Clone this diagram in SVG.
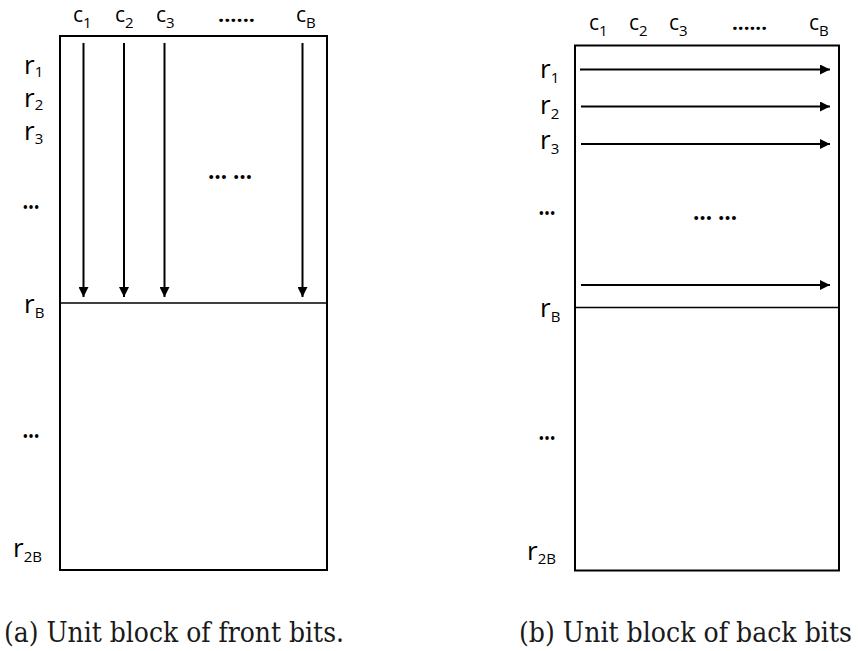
<svg xmlns="http://www.w3.org/2000/svg" width="858" height="651" viewBox="0 0 858 651">
  <style>
    .box { fill: none; stroke: #000; stroke-width: 2; }
    .div { stroke: #000; stroke-width: 1.6; }
    .flow { stroke: #000; stroke-width: 2; marker-end: url(#head); }
    .col { font-size: 21px; fill: #000; }
    .row { font-size: 26px; fill: #000; }
    .sub { font-size: 15px; }
    .dots { font-size: 24px; font-weight: bold; fill: #000; }
    .topdots { font-size: 19px; font-weight: bold; fill: #000; }
    .cap { font-size: 27px; fill: #1a1a1a; }
  </style>
  <defs>
    <marker id="head" markerUnits="userSpaceOnUse" markerWidth="11" markerHeight="10" refX="10" refY="5" orient="auto">
      <path d="M0,0 L10,5 L0,10 Z" fill="#000"/>
    </marker>
  </defs>

  <!-- Block (a): front bits, read column by column -->
  <g id="blockFront" font-family="Open Sans, Noto Sans, sans-serif">
    <rect class="box" x="60" y="36" width="267" height="534"/>
    <line class="div" x1="60" y1="303" x2="327" y2="303"/>
    <text class="col" x="73" y="22">c<tspan class="sub" dy="6">1</tspan></text>
    <text class="col" x="115" y="22">c<tspan class="sub" dy="6">2</tspan></text>
    <text class="col" x="156" y="22">c<tspan class="sub" dy="6">3</tspan></text>
    <text class="topdots" x="218" y="22" textLength="37" lengthAdjust="spacingAndGlyphs">......</text>
    <text class="col" x="296" y="22">c<tspan class="sub" dy="6">B</tspan></text>
    <text class="row" x="24" y="74">r<tspan class="sub" dy="3">1</tspan></text>
    <text class="row" x="24" y="107">r<tspan class="sub" dy="3">2</tspan></text>
    <text class="row" x="24" y="140">r<tspan class="sub" dy="4">3</tspan></text>
    <text class="dots" x="31" y="209" text-anchor="middle" textLength="17" lengthAdjust="spacingAndGlyphs">…</text>
    <text class="dots" x="230" y="179" text-anchor="middle" textLength="44" lengthAdjust="spacingAndGlyphs">… …</text>
    <text class="row" x="24" y="313">r<tspan class="sub" dy="5">B</tspan></text>
    <text class="dots" x="31" y="438" text-anchor="middle" textLength="17" lengthAdjust="spacingAndGlyphs">…</text>
    <text class="row" x="13" y="557">r<tspan class="sub" dy="5">2B</tspan></text>
  </g>
  <text class="cap" font-family="DejaVu Serif" x="4" y="642" textLength="340" lengthAdjust="spacingAndGlyphs">(a) Unit block of front bits.</text>

  <!-- Block (b): back bits, read row by row -->
  <g id="blockBack" font-family="Open Sans, Noto Sans, sans-serif">
    <rect class="box" x="575" y="45.5" width="264" height="525"/>
    <line class="div" x1="575" y1="307.5" x2="839" y2="307.5"/>
    <text class="col" x="589" y="30">c<tspan class="sub" dy="6">1</tspan></text>
    <text class="col" x="629" y="30">c<tspan class="sub" dy="6">2</tspan></text>
    <text class="col" x="669" y="30">c<tspan class="sub" dy="6">3</tspan></text>
    <text class="topdots" x="732" y="30" textLength="35" lengthAdjust="spacingAndGlyphs">......</text>
    <text class="col" x="809" y="30">c<tspan class="sub" dy="6">B</tspan></text>
    <text class="row" x="540" y="78">r<tspan class="sub" dy="5">1</tspan></text>
    <text class="row" x="540" y="114">r<tspan class="sub" dy="5">2</tspan></text>
    <text class="row" x="540" y="149">r<tspan class="sub" dy="5">3</tspan></text>
    <text class="dots" x="547" y="215" text-anchor="middle" textLength="17" lengthAdjust="spacingAndGlyphs">…</text>
    <text class="dots" x="715" y="220" text-anchor="middle" textLength="44" lengthAdjust="spacingAndGlyphs">… …</text>
    <text class="row" x="540" y="317">r<tspan class="sub" dy="5">B</tspan></text>
    <text class="dots" x="547" y="440" text-anchor="middle" textLength="17" lengthAdjust="spacingAndGlyphs">…</text>
    <text class="row" x="527" y="560">r<tspan class="sub" dy="4">2B</tspan></text>
  </g>
  <text class="cap" font-family="DejaVu Serif" x="519" y="642" textLength="333" lengthAdjust="spacingAndGlyphs">(b) Unit block of back bits</text>

  <!-- Reading-order arrows -->
  <g id="connectors">
    <line class="flow" x1="83.5" y1="43" x2="83.5" y2="297"/>
    <line class="flow" x1="124" y1="43" x2="124" y2="297"/>
    <line class="flow" x1="164.5" y1="43" x2="164.5" y2="297"/>
    <line class="flow" x1="302.5" y1="43" x2="302.5" y2="297"/>
    <line class="flow" x1="580" y1="69.5" x2="830" y2="69.5"/>
    <line class="flow" x1="581" y1="106.5" x2="830" y2="106.5"/>
    <line class="flow" x1="581" y1="144" x2="830" y2="144"/>
    <line class="flow" x1="581" y1="285" x2="830" y2="285"/>
  </g>
</svg>
